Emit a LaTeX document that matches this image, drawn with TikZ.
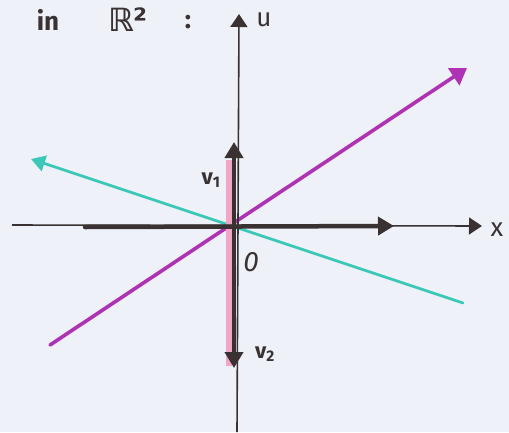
\documentclass[tikz,border=0pt]{standalone}
\usepackage{fontspec}
\setmainfont{Fira Sans}
\newfontfamily\symfont{DejaVu Sans}
\usetikzlibrary{arrows.meta}
\definecolor{paper}{HTML}{EEF2F8}
\definecolor{ink}{HTML}{3A3232}
\definecolor{violetline}{HTML}{B032B4}
\definecolor{tealline}{HTML}{3CC8B8}
\definecolor{pinkline}{HTML}{F2A6C6}
\tikzset{
  thinaxis/.style={draw=ink, line width=1.6pt, -{Triangle[length=13pt,width=17pt]}},
  thickvec/.style={draw=ink, line width=4.5pt, line cap=round},
  lbl/.style={text=ink, inner sep=0pt, font=\fontsize{22}{22}\selectfont},
}
\begin{document}
\begin{tikzpicture}[x=1pt,y=-1pt]
\fill[paper] (0,0) rectangle (509,432);
\useasboundingbox (0,0) rectangle (509,432);
% points
\coordinate (O) at (234,226);
\coordinate (xl) at (12,225);
\coordinate (xr) at (482,226);
\coordinate (yb) at (237,432);
\coordinate (yt) at (239,14);
\coordinate (hl) at (85,227);
\coordinate (hr) at (394,226);
\coordinate (v1) at (234,142);
\coordinate (v2) at (234,368);
\coordinate (pt) at (229,160);
\coordinate (pb) at (229,366);
\coordinate (ps) at (50,345);
\coordinate (pe) at (467,68);
\coordinate (cs) at (463,303);
\coordinate (ce) at (31,159);
% coloured lines
\draw[tealline, line width=2.8pt, line cap=round, -{Triangle[length=14pt,width=16pt]}] (cs) -- (ce);
\draw[violetline, line width=3.6pt, line cap=round, -{Triangle[length=16pt,width=20pt]}] (ps) -- (pe);
\draw[pinkline, line width=6pt] (pt) -- (pb);
% axes
\draw[thinaxis] (xl) -- (xr);
\draw[thinaxis] (yb) -- (yt);
% thick vectors
\draw[thickvec, -{Triangle[length=16pt,width=18pt]}] (hl) -- (hr);
\draw[thickvec, {Triangle[length=16pt,width=18pt]}-{Triangle[length=16pt,width=18pt]}] (v1) -- (v2);
% labels
\node[lbl, font=\fontsize{22}{22}\selectfont\bfseries] (lv1) at (211,180) {v\textsubscript{1}};
\node[lbl, font=\fontsize{22}{22}\selectfont\bfseries] (lv2) at (265,354) {v\textsubscript{2}};
\node[lbl, font=\fontsize{28}{28}\selectfont\itshape] (lo) at (251,262) {0};
\node[lbl, font=\fontsize{26}{26}\selectfont] (lu) at (264,20) {u};
\node[lbl, font=\fontsize{26}{26}\selectfont] (lx) at (497,230) {x};
\node[lbl, font=\fontsize{26}{26}\selectfont\bfseries] (lin) at (48,20) {in};
\node[lbl, font=\fontsize{32}{32}\selectfont\symfont\bfseries] (lR) at (128,20) {ℝ²};
\node[lbl, font=\fontsize{26}{26}\selectfont\bfseries] (lc) at (188,22) {:};
\end{tikzpicture}
\end{document}
